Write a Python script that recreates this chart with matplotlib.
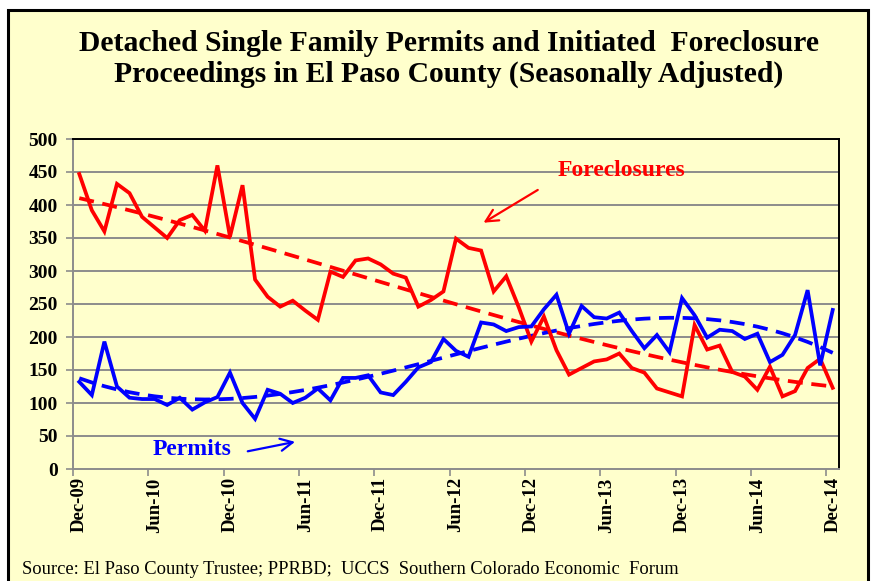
import numpy as np
import matplotlib
matplotlib.use("Agg")
import matplotlib.pyplot as plt
from matplotlib.patches import Rectangle

# Monthly data Dec-09 .. Dec-14 (61 months)
foreclosures = [447, 392, 360, 432, 418, 382, 366, 350, 377, 385,
                361, 460, 352, 430, 287, 261, 246, 255, 240, 226,
                299, 291, 316, 319, 310, 296, 290, 246, 256, 269,
                349, 335, 331, 269, 292, 245, 193, 231, 180, 143,
                153, 163, 166, 175, 153, 146, 122, 116, 110, 218,
                181, 187, 147, 140, 120, 155, 110, 118, 153, 167, 123]
permits = [132, 112, 193, 125, 108, 106, 106, 97, 108, 90,
           101, 109, 146, 100, 76, 120, 114, 100, 108, 122,
           104, 138, 138, 142, 116, 112, 132, 154, 162, 197,
           179, 170, 222, 219, 209, 215, 216, 242, 264, 205,
           247, 230, 228, 237, 209, 183, 203, 177, 259, 233,
           199, 211, 209, 197, 205, 162, 173, 203, 271, 157, 241]
tick_labels = ["Dec-09", "Jun-10", "Dec-10", "Jun-11", "Dec-11", "Jun-12",
               "Dec-12", "Jun-13", "Dec-13", "Jun-14", "Dec-14"]
y_ticks = [0, 50, 100, 150, 200, 250, 300, 350, 400, 450, 500]

title = ("Detached Single Family Permits and Initiated  Foreclosure\n"
         "Proceedings in El Paso County (Seasonally Adjusted)")
source = "Source: El Paso County Trustee; PPRBD;  UCCS  Southern Colorado Economic  Forum"

SERIF = ["Liberation Serif", "DejaVu Serif"]
BG = "#FFFFCC"

x = np.arange(len(foreclosures))
fc = np.array(foreclosures, dtype=float)
pm = np.array(permits, dtype=float)
fc_trend = np.polyval(np.polyfit(x, fc, 3), x)
pm_trend = np.polyval(np.polyfit(x, pm, 3), x)

fig = plt.figure(figsize=(8.72, 5.81), dpi=100)
fig.patch.set_facecolor("white")
fig.patches.append(Rectangle((8 / 872, -0.01), 860 / 872, 1 - 10 / 581 + 0.01,
                             transform=fig.transFigure, facecolor=BG,
                             edgecolor="black", linewidth=2.2, zorder=-10))

ax = fig.add_axes([73 / 872, 1 - 469 / 581, 766 / 872, 330 / 581])
ax.set_zorder(5)
ax.set_facecolor(BG)

for v in y_ticks[1:]:
    ax.axhline(v, color="#8C8C8C", linewidth=1.4, zorder=1)

ax.plot(x, fc, color="#FF0000", linewidth=2.7, zorder=4, solid_joinstyle="miter")
ax.plot(x, pm, color="#0000FF", linewidth=2.7, zorder=5, solid_joinstyle="miter")
ax.plot(x, fc_trend, color="#FF0000", linewidth=2.7, linestyle=(0, (4, 2.3)), zorder=3)
ax.plot(x, pm_trend, color="#0000FF", linewidth=2.7, linestyle=(0, (4, 2.3)), zorder=3)

ax.set_xlim(-0.5, len(x) - 0.5)
ax.set_ylim(0, 500)
ax.set_yticks(y_ticks)
ax.set_yticklabels([str(v) for v in y_ticks], fontfamily=SERIF,
                   fontweight="bold", fontsize=14)
ax.set_xticks(np.arange(0, len(x), 6))
ax.set_xticklabels(tick_labels, rotation=90, fontfamily=SERIF,
                   fontweight="bold", fontsize=13.5)
ax.tick_params(axis="x", which="major", length=0, pad=6)
ax.set_xticks(np.arange(-0.5, len(x), 6), minor=True)
ax.tick_params(axis="x", which="minor", length=5, width=1.2, color="#8C8C8C",
               direction="out")
ax.tick_params(axis="y", length=5, width=1.2, color="#8C8C8C", pad=6)

for s in ["left", "bottom"]:
    ax.spines[s].set_color("#8C8C8C")
    ax.spines[s].set_linewidth(1.4)
for s in ["top", "right"]:
    ax.spines[s].set_color("black")
    ax.spines[s].set_linewidth(1.4)

ax.text(43.2, 452, "Foreclosures", color="#FF0000", fontfamily=SERIF,
        fontweight="bold", fontsize=17, ha="center", va="center", zorder=6)
ax.annotate("", xy=(32.0, 371), xytext=(36.7, 425),
            arrowprops=dict(arrowstyle="->", color="#FF0000", lw=1.6,
                            mutation_scale=22))
ax.text(9.0, 29, "Permits", color="#0000FF", fontfamily=SERIF,
        fontweight="bold", fontsize=17, ha="center", va="center", zorder=6)
ax.annotate("", xy=(17.4, 42), xytext=(13.2, 26),
            arrowprops=dict(arrowstyle="->", color="#0000FF", lw=1.6,
                            mutation_scale=22))

fig.text(449 / 872, 1 - 59 / 581, title, ha="center", va="center",
         fontfamily=SERIF, fontweight="bold", fontsize=21.3, linespacing=1.2)
fig.text(22 / 872, 1 - 569 / 581, source, ha="left", va="center",
         fontfamily=SERIF, fontsize=13.3)

fig.savefig("out.png", dpi=100, facecolor=fig.get_facecolor())
